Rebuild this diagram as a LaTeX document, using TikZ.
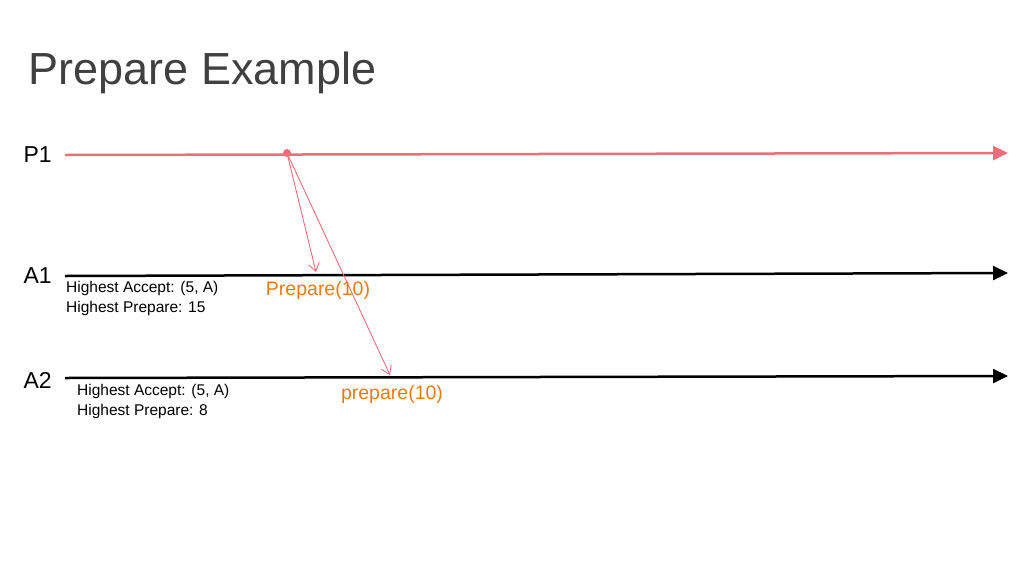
\documentclass[tikz,border=0pt]{standalone}
\usepackage{fontspec}
\setmainfont{Liberation Sans}
\usetikzlibrary{arrows.meta}
\definecolor{procred}{HTML}{EA6F7A}
\definecolor{msgorange}{HTML}{F07A10}
\tikzset{
  timeline/.style={line width=2.5pt,-{Triangle[length=15pt,width=14pt]}},
  msg/.style={procred,line width=0.9pt,-{Straight Barb[length=8pt,width=11pt]}},
  state/.style={anchor=north west,font=\fontsize{15.5}{20.5}\selectfont,align=left,inner sep=0pt},
  proc/.style={anchor=west,font=\fontsize{23}{26}\selectfont},
}
\begin{document}
\begin{tikzpicture}[x=1pt,y=-1pt]
  \useasboundingbox (0,0) rectangle (1024,576);
  % title
  \node[anchor=west,text=black!75,font=\fontsize{45}{50}\selectfont] (title) at (25,73) {Prepare Example};
  % processes
  \node[proc] (p1) at (20,155) {P1};
  \node[proc] (a1) at (20,276) {A1};
  \node[proc] (a2) at (20,380) {A2};
  \coordinate (p1s) at (65,155);  \coordinate (p1e) at (1008,153);
  \coordinate (a1s) at (65,276);  \coordinate (a1e) at (1008,273);
  \coordinate (a2s) at (65,378);  \coordinate (a2e) at (1008,376);
  \draw[timeline,procred] (p1s) -- (p1e);
  \draw[timeline] (a1s) -- (a1e);
  \draw[timeline] (a2s) -- (a2e);
  % prepare messages
  \coordinate (send) at (287,153);
  \coordinate (recv1) at (316,272);
  \coordinate (recv2) at (390,375);
  \fill[procred] (send) circle (4pt);
  \draw[msg] (send) -- (recv1);
  \draw[msg] (send) -- (recv2);
  \node[text=msgorange,font=\fontsize{19.5}{22}\selectfont] (m1) at (318,290) {Prepare(10)};
  \node[text=msgorange,font=\fontsize{19.5}{22}\selectfont] (m2) at (392,394) {prepare(10)};
  % acceptor state
  \node[state] (s1) at (66,281) {Highest Accept: (5, A)\\Highest Prepare: 15};
  \node[state] (s2) at (77,384) {Highest Accept: (5, A)\\Highest Prepare: 8};
\end{tikzpicture}
\end{document}
